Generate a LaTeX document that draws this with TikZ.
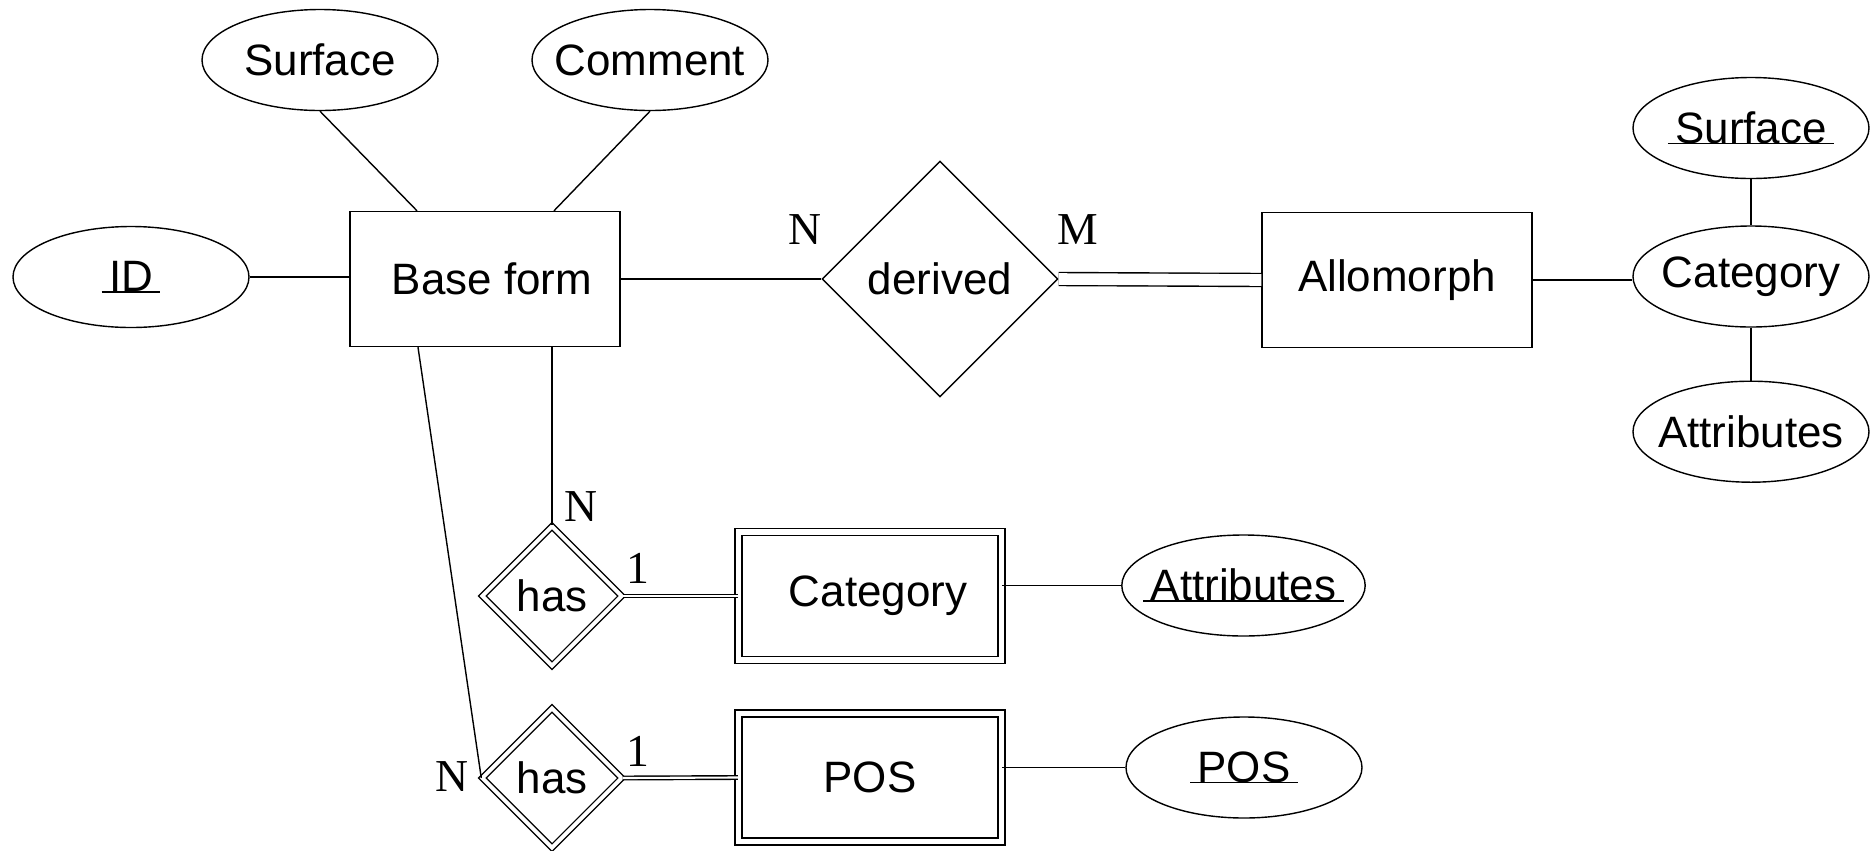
\documentclass[tikz,border=0pt]{standalone}
\usepackage{fontspec}
\setmainfont{Liberation Sans}
\newfontfamily\cardfont{Liberation Serif}
\usetikzlibrary{shapes.geometric}
\newcommand{\keyattr}[1]{\setbox0\hbox{\,#1\,}\rlap{\rule[-0.3pt]{\wd0}{0.45pt}}\box0}

\begin{document}
\begin{tikzpicture}[x=1cm,y=1cm,
  line width=0.4pt,
  every node/.style={font=\fontsize{12.5}{15}\selectfont},
  entity/.style={draw, rectangle, minimum width=2.70cm, minimum height=1.35cm, inner sep=0pt},
  weakentity/.style={draw, rectangle, double, double distance=1.6pt, minimum width=2.63cm, minimum height=1.28cm, inner sep=0pt},
  attrib/.style={draw, ellipse, minimum width=2.36cm, minimum height=1.01cm, inner xsep=-4pt, inner ysep=0pt},
  relation/.style={draw, diamond, minimum width=2.36cm, minimum height=2.36cm, inner sep=0pt},
  weakrelation/.style={draw, diamond, double, double distance=1.1pt, minimum width=1.40cm, minimum height=1.40cm, inner sep=0pt},
  card/.style={font=\cardfont\fontsize{13}{15}\selectfont, inner sep=0pt},
  idline/.style={double, double distance=0.6pt}]
\useasboundingbox (0,0) rectangle (18.72,-8.51);
\node[attrib] (surf) at (3.20,-0.60)
{Surface};
\node[attrib] (comm) at (6.50,-0.60)
{Comment};
\node[attrib] (id) at (1.31,-2.77)
{\keyattr{ID}};
\node[entity] (base) at (4.85,-2.79)
{\hspace*{0.14cm}Base form};
\node[relation] (derived) at (9.40,-2.79)
{derived};
\node[entity] (allo) at (13.97,-2.80)
{Allomorph};
\node[attrib] (asurf) at (17.51,-1.28)
{\keyattr{Surface}};
\node[attrib] (acat) at (17.51,-2.765)
{Category};
\node[attrib] (aattr) at (17.51,-4.317)
{Attributes};
\node[weakrelation] (hascat) at (5.52,-5.96)
{has};
\node[weakentity] (cat) at (8.70,-5.96)
{\hspace*{0.16cm}Category};
\node[attrib] (cattr) at (12.435,-5.855)
{\keyattr{Attributes}};
\node[weakrelation] (haspos) at (5.52,-7.78)
{has};
\node[weakentity] (pos) at (8.70,-7.775)
{POS};
\node[attrib] (posattr) at (12.44,-7.675)
{\keyattr{POS}};
\node[card] (nderived) at (8.05,-2.30) {N};
\node[card] (mderived) at (10.78,-2.30) {M};
\node[card] (ncat) at (5.81,-5.07) {N};
\node[card] (onecat) at (6.38,-5.68) {1};
\node[card] (npos) at (4.52,-7.77) {N};
\node[card] (onepos) at (6.38,-7.51) {1};
\draw (id.east) -- (id.east -| base.west);
\draw (surf.south) -- ([xshift=-0.68cm]base.north);
\draw (comm.south) -- ([xshift=0.69cm]base.north);
\draw (base.east) -- (derived.west);
\draw[double, double distance=3.3pt] (derived.east) -- (allo.west);
\draw (allo.east) -- (allo.east -| acat.west);
\draw (asurf) -- (acat);
\draw (acat) -- (aattr);
\draw (hascat.north |- base.south) -- (hascat.north);
\draw ([xshift=-0.67cm]base.south) -- (haspos.west);
\draw[idline] (hascat.east) -- (cat.west);
\draw[idline] (haspos.east) -- (pos.west);
\draw (cat.east |- cattr.west) -- (cattr.west);
\draw (pos.east |- posattr.west) -- (posattr.west);
\end{tikzpicture}
\end{document}
